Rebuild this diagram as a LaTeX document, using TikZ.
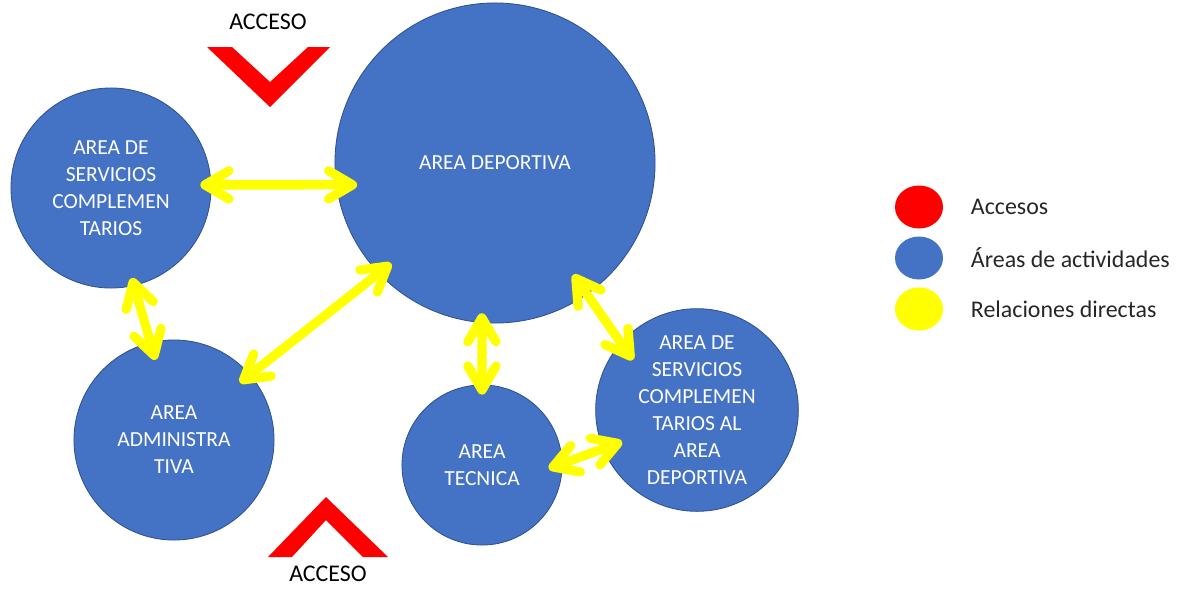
\documentclass[tikz,border=0pt]{standalone}
\usepackage{fontspec}
\setmainfont{Carlito}
\usetikzlibrary{arrows.meta,calc,shapes.geometric}
\definecolor{areablue}{HTML}{4472C4}
\definecolor{areaedge}{HTML}{2F528F}
\definecolor{accred}{HTML}{FF0000}
\definecolor{relyellow}{HTML}{FFFF00}
\tikzset{
  area/.style={circle, fill=areablue, draw=areaedge, line width=0.6pt, text=white, align=center,
    font=\fontsize{15.3}{19.2}\selectfont},
  rel/.style={draw=relyellow, line width=6.6pt, line cap=round,
    {Straight Barb[length=17pt, width=20pt, round]}-{Straight Barb[length=17pt, width=20pt, round]}},
  acclabel/.style={font=\fontsize{17}{20}\selectfont, text=black, inner sep=1pt},
  legdot/.style={ellipse, minimum width=1.2cm, minimum height=1.075cm, inner sep=0pt},
  legtext/.style={anchor=west, font=\fontsize{17}{20}\selectfont, text=black!85}
}
\begin{document}
\begin{tikzpicture}[x=0.025cm, y=-0.025cm]
            \useasboundingbox (0,0) rectangle (1188,588);
            % areas
            \node[area, minimum size=5cm]    (serv) at (111,188) {AREA DE\\SERVICIOS\\COMPLEMEN\\TARIOS};
            \node[area, minimum size=8cm]    (dep)  at (495,163) {AREA DEPORTIVA};
            \node[area, minimum size=5cm]    (adm)  at (174,440) {AREA\\ADMINISTRA\\TIVA};
            \node[area, minimum size=4cm]    (tec)  at (482,465) {AREA\\TECNICA};
            \node[area, minimum size=5.05cm] (sdep) at (697,410) {AREA DE\\SERVICIOS\\COMPLEMEN\\TARIOS AL\\AREA\\DEPORTIVA};
            % accesos
            \fill[accred] (207,47)--(232,47)--(270,82)--(308,47)--(330,47)--(270,107)--cycle;
            \fill[accred] (268,557)--(292,557)--(326,520)--(363,557)--(388,557)--(326,497)--cycle;
            \node[acclabel] (acctop) at (268,22) {ACCESO};
            \node[acclabel] (accbot) at (328,574) {ACCESO};
            % relaciones
            \draw[rel] ($(serv)!.89!(serv.2)$) -- ($(dep)!.87!(dep.189)$);
            \draw[rel] ($(serv)!.92!(serv.-77)$) -- ($(adm)!.82!(adm.103)$);
            \draw[rel] ($(adm)!.87!(adm.41)$) -- ($(dep)!.90!(dep.224)$);
            \draw[rel] ($(dep)!.94!(dep.265)$) -- ($(tec)!.875!(tec.90)$);
            \draw[rel] ($(dep)!.85!(dep.-55)$) -- ($(sdep)!.80!(sdep.142)$);
            \draw[rel] ($(tec)!.83!(tec.-3)$) -- ($(sdep)!.80!(sdep.203)$);
            % leyenda
            \node[legdot, fill=accred]    (legacc)  at (919,207) {};
            \node[legdot, fill=areablue]  (legarea) at (919,258) {};
            \node[legdot, fill=relyellow] (legrel)  at (919,309) {};
            \node[legtext] at (966,207) {Accesos};
            \node[legtext] at (966,258) {Áreas de actividades};
            \node[legtext] at (966,309) {Relaciones directas};
    \end{tikzpicture}
\end{document}
